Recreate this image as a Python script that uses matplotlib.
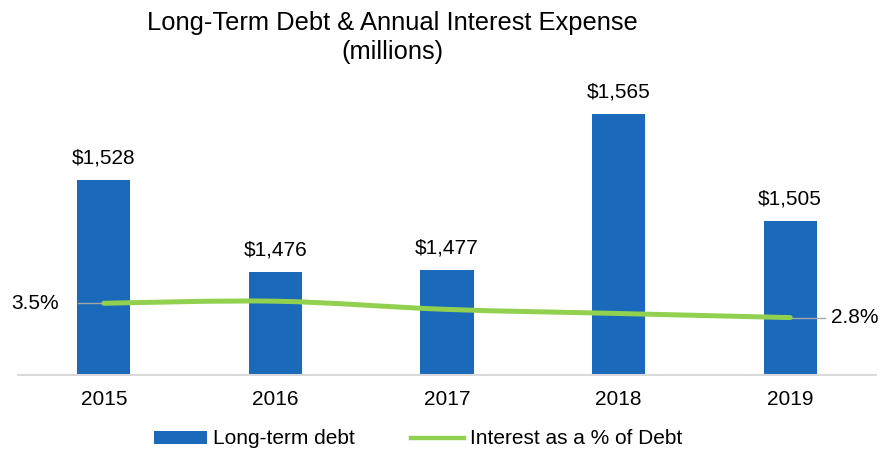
import numpy as np
import matplotlib.pyplot as plt
from matplotlib.path import Path
from matplotlib.patches import PathPatch
from matplotlib.lines import Line2D
from matplotlib.patches import Patch

plt.rcParams['font.family'] = ['Liberation Sans', 'DejaVu Sans']

years = ['2015', '2016', '2017', '2018', '2019']
debt = [1528, 1476, 1477, 1565, 1505]
interest_pct = [3.5, 3.6, 3.2, 3.0, 2.8]

bar_color = '#1A69BA'
line_color = '#92D050'
grey = '#A6A6A6'
fs = 15


def smooth_path(x, y, tension=1 / 6):
    # cubic bezier through every point, catmull-rom style control points
    pts = np.column_stack([x, y]).astype(float)
    verts = [pts[0]]
    codes = [Path.MOVETO]
    n = len(pts)
    for i in range(n - 1):
        p0 = pts[i - 1] if i > 0 else pts[i]
        p1 = pts[i]
        p2 = pts[i + 1]
        p3 = pts[i + 2] if i + 2 < n else pts[i + 1]
        c1 = p1 + (p2 - p0) * tension
        c2 = p2 - (p3 - p1) * tension
        verts += [c1, c2, p2]
        codes += [Path.CURVE4] * 3
    return Path(verts, codes)


fig = plt.figure(figsize=(8.81, 4.5), dpi=100)
ax = fig.add_axes([18 / 881, 75 / 450, 858 / 881, 300 / 450])
x = np.arange(len(years))

ax.bar(x, debt, width=0.31, color=bar_color, zorder=2)
ax.set_ylim(1418, 1418 + 300 / 1.775)
ax.set_xlim(-0.5, len(years) - 0.5)
ax.set_yticks([])
ax.set_xticks(x)
ax.set_xticklabels(years, fontsize=fs)
ax.tick_params(axis='x', length=0, pad=11)
for side in ['top', 'right', 'left']:
    ax.spines[side].set_visible(False)
ax.spines['bottom'].set_color('#D9D9D9')
ax.spines['bottom'].set_linewidth(1.5)

for xi, v in zip(x, debt):
    ax.annotate('${:,}'.format(v), (xi, v), xytext=(0, 9), textcoords='offset points',
                ha='center', va='bottom', fontsize=fs)

ax2 = ax.twinx()
ax2.set_ylim(0, 300 / 20.5)
ax2.axis('off')
ax2.add_patch(PathPatch(smooth_path(x, interest_pct), fill=False, edgecolor=line_color,
                        lw=3.6, capstyle='round', zorder=3))

# leader lines and labels at both ends of the line
ax2.plot([-0.15, 0], [interest_pct[0]] * 2, color=grey, lw=1, zorder=2)
ax2.annotate('{:.1f}%'.format(interest_pct[0]), (-0.15, interest_pct[0]), xytext=(-14, 0),
             textcoords='offset points', ha='right', va='center', fontsize=fs)
ax2.plot([4, 4.2], [interest_pct[-1]] * 2, color=grey, lw=1, zorder=2)
ax2.annotate('{:.1f}%'.format(interest_pct[-1]), (4.2, interest_pct[-1]), xytext=(5, 0),
             textcoords='offset points', ha='left', va='center', fontsize=fs)

fig.text(392 / 881, 1 - 23 / 450, 'Long-Term Debt & Annual Interest Expense',
         ha='center', va='center', fontsize=18.4)
fig.text(392 / 881, 1 - 52 / 450, '(millions)', ha='center', va='center', fontsize=18.4)

handles = [Patch(facecolor=bar_color, edgecolor='none'),
           Line2D([0], [0], color=line_color, lw=3.2)]
fig.legend(handles, ['Long-term debt', 'Interest as a % of Debt'], loc='center',
           bbox_to_anchor=(418 / 881, 11 / 450), ncol=2, frameon=False, fontsize=fs,
           handlelength=2.55, handleheight=0.6, handletextpad=0.28, columnspacing=2.7,
           borderpad=0)

fig.savefig('out.png', dpi=100)
